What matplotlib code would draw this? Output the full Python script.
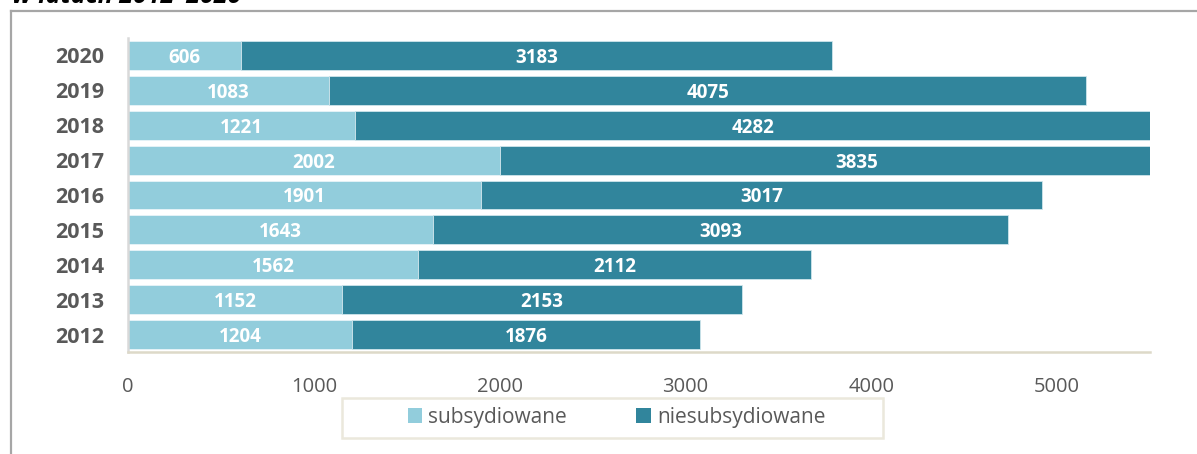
import matplotlib
matplotlib.use("Agg")
import matplotlib.pyplot as plt
from matplotlib.patches import Patch, Rectangle
from matplotlib.lines import Line2D

years = ["2012", "2013", "2014", "2015", "2016", "2017", "2018", "2019", "2020"]
subsydiowane = [1204, 1152, 1562, 1643, 1901, 2002, 1221, 1083, 606]
niesubsydiowane = [1876, 2153, 2112, 3093, 3017, 3835, 4282, 4075, 3183]
xticks = [0, 1000, 2000, 3000, 4000, 5000]
series_names = ["subsydiowane", "niesubsydiowane"]
title = "w latach 2012–2020"

c_light = "#92CDDC"
c_dark = "#31859C"
gray_txt = "#595959"

W, H = 1197, 454
fig = plt.figure(figsize=(W / 100, H / 100), dpi=100)
fig.patch.set_facecolor("white")

# axes in pixel coordinates
left, right, top, bottom = 128, 1150, 38, 352
ax = fig.add_axes([left / W, 1 - bottom / H, (right - left) / W, (bottom - top) / H])

y = list(range(len(years)))
bh = 0.83
ax.barh(y, subsydiowane, height=bh, color=c_light, edgecolor="#e8f4f8", linewidth=0.6)
ax.barh(y, niesubsydiowane, left=subsydiowane, height=bh, color=c_dark,
        edgecolor="#cfe6ec", linewidth=0.6)

for i in y:
    ax.text(subsydiowane[i] / 2, i, str(subsydiowane[i]), ha="center", va="center_baseline",
            color="white", fontsize=13.5, fontweight="bold", family="Open Sans")
    ax.text(subsydiowane[i] + niesubsydiowane[i] / 2, i, str(niesubsydiowane[i]),
            ha="center", va="center_baseline", color="white", fontsize=13.5, fontweight="bold",
            family="Open Sans", clip_on=False)

ax.set_xlim(0, 5500)
ax.set_ylim(-0.5, len(years) - 0.5)
ax.set_yticks(y)
ax.set_yticklabels(years, fontsize=15.5, fontweight="bold", color=gray_txt, family="Open Sans")
ax.set_xticks(xticks)
ax.set_xticklabels([str(v) for v in xticks], fontsize=14.5, color=gray_txt, family="Open Sans")
ax.tick_params(axis="both", length=0)
ax.tick_params(axis="x", pad=18)
ax.tick_params(axis="y", pad=17)

for s in ["top", "right"]:
    ax.spines[s].set_visible(False)
ax.spines["left"].set_color("#d9d9d9")
ax.spines["left"].set_linewidth(1.8)
ax.spines["bottom"].set_color("#ddd9c8")
ax.spines["bottom"].set_linewidth(1.8)

# legend (frame drawn separately)
handles = [Patch(facecolor=c_light, edgecolor="none"), Patch(facecolor=c_dark, edgecolor="none")]
leg = fig.legend(handles, series_names, loc="center", ncol=2,
                 bbox_to_anchor=((410 + 823) / 2 / W, 1 - 417 / H),
                 frameon=False,
                 prop={"family": "Open Sans", "size": 15},
                 handlelength=0.7, handleheight=0.7, handletextpad=0.3,
                 columnspacing=3.3, borderpad=0.0, borderaxespad=0)
for t in leg.get_texts():
    t.set_color(gray_txt)
fig.add_artist(Rectangle((342 / W, 1 - 438 / H), (883 - 342) / W, 40 / H,
                         transform=fig.transFigure, facecolor="none",
                         edgecolor="#ebe8dc", linewidth=1.8))

# outer frame (top and left visible)
fig.add_artist(Line2D([11 / W, 1.0], [1 - 11 / H, 1 - 11 / H], color="#a6a6a6", lw=1.6))
fig.add_artist(Line2D([11 / W, 11 / W], [1 - 11 / H, 0], color="#a6a6a6", lw=1.6))

# title cut off at top (as in the reference)
fig.text(12 / W, 1 - 3 / H, title, ha="left", va="baseline", fontsize=18,
         fontweight="bold", fontstyle="italic", family="Open Sans", color="black")

fig.savefig("out.png", dpi=100)
